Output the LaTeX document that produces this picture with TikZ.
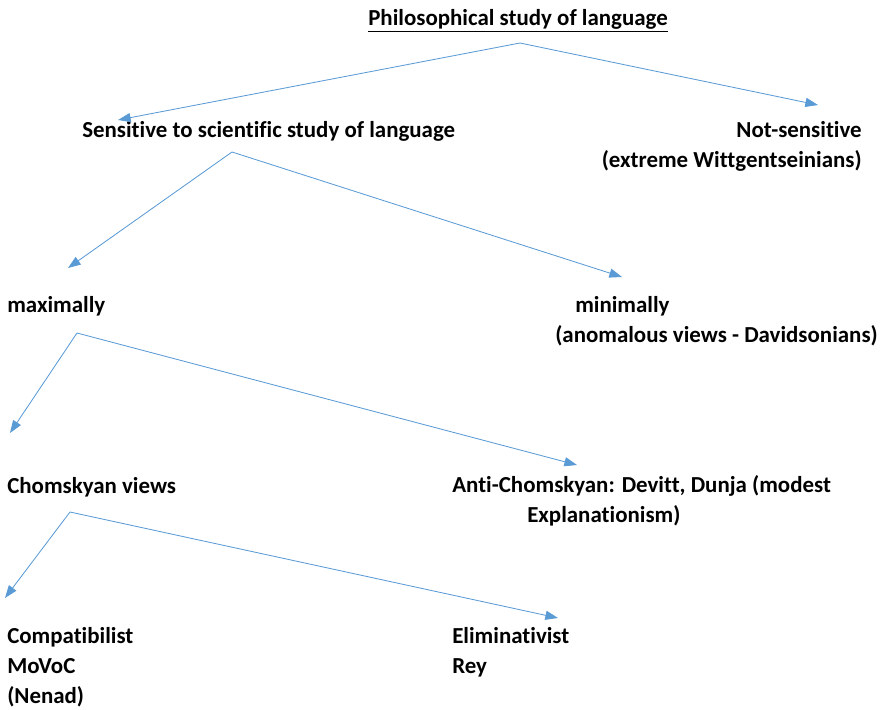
\documentclass[tikz,border=0pt]{standalone}
\usepackage{fontspec}
\setmainfont[Ligatures=NoCommon]{Carlito}
\usetikzlibrary{arrows.meta}
\definecolor{linkblue}{HTML}{5B9BD5}
\tikzset{lbl/.style={inner sep=0pt, font=\fontsize{16.3}{21.3}\selectfont\bfseries, anchor=base west, align=left},
         link/.style={linkblue, line width=0.6pt, -{Triangle[length=9pt,width=6.5pt]}}}

\begin{document}
\begin{tikzpicture}
  \useasboundingbox (0,0) rectangle (22.1,-17.75);

  % the base anchor sits on the last line
  \node[lbl, anchor=base] (top) at (12.95,-0.625) {\underline{Philosophical study of language}};
  \node[lbl] (sens) at ( 2.05,-3.425) {Sensitive to scientific study of language};
  \node[lbl, anchor=base east, align=right] (nots) at (21.55,-4.175) {Not-sensitive\\(extreme Wittgentseinians)};
  \node[lbl] (maxi) at ( 0.175,-7.8) {maximally};
  \node[lbl] (mini) at (13.875,-8.55) {\hspace*{0.5cm}minimally\\(anomalous views - Davidsonians)};
  \node[lbl] (chom) at ( 0.175,-12.325) {Chomskyan views};
  \node[lbl] (anti) at (11.3,-13.05) {Anti-Chomskyan: Devitt, Dunja (modest\\\hspace*{1.875cm}Explanationism)};
  \node[lbl] (comp) at ( 0.175,-17.575) {Compatibilist\\MoVoC\\(Nenad)};
  \node[lbl] (elim) at (11.3,-16.825) {Eliminativist\\Rey};

  % forks and arrow tips
  \coordinate (f1)  at (13.0,-1.075);
  \coordinate (t1a) at ( 2.95,-3.0);
  \coordinate (t1b) at (20.45,-2.625);
  \coordinate (f2)  at ( 5.8,-3.8);
  \coordinate (t2a) at ( 1.7,-6.7);
  \coordinate (t2b) at (15.55,-6.925);
  \coordinate (f3)  at ( 1.925,-8.325);
  \coordinate (t3a) at ( 0.25,-10.825);
  \coordinate (t3b) at (14.425,-11.625);
  \coordinate (f4)  at ( 1.75,-12.8);
  \coordinate (t4a) at ( 0.125,-14.95);
  \coordinate (t4b) at (13.95,-15.45);

  \foreach \f/\t in {f1/t1a, f1/t1b, f2/t2a, f2/t2b, f3/t3a, f3/t3b, f4/t4a, f4/t4b}
    \draw[link] (\f) -- (\t);
\end{tikzpicture}
\end{document}
